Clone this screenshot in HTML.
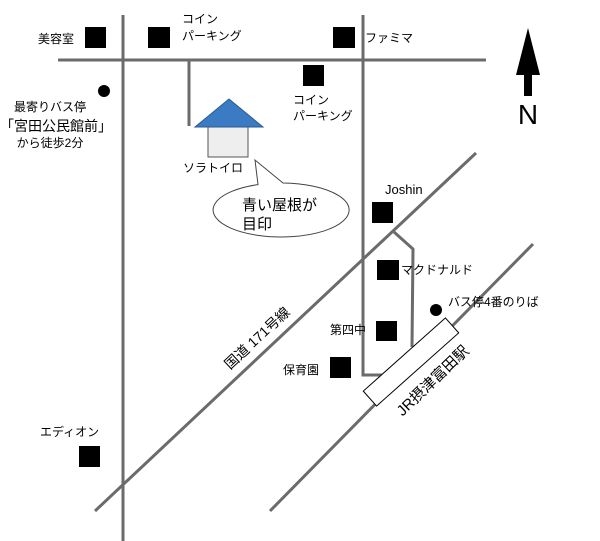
<!DOCTYPE html>
<html><head><meta charset="utf-8"><style>
html,body{margin:0;padding:0;background:#fff;}
svg{display:block;font-family:"Liberation Sans","Noto Sans CJK JP",sans-serif;}
</style></head><body>
<svg width="600" height="541" viewBox="0 0 600 541">
<g stroke="#6b6b6b" stroke-width="3" fill="none">
<line x1="123" y1="15" x2="123" y2="541"/>
<line x1="58" y1="60" x2="486" y2="60"/>
<line x1="189" y1="60" x2="189" y2="126"/>
<polyline points="363,15 363,375 382,375"/>
<line x1="95" y1="511" x2="476" y2="153"/>
<polyline points="394,232 413,249 412,347"/>
<line x1="270" y1="511" x2="533" y2="244"/>
</g>
<g fill="#000">
<rect x="85" y="27" width="21" height="21"/>
<rect x="148" y="27" width="22" height="21"/>
<rect x="333" y="27" width="22" height="21"/>
<rect x="303" y="65" width="21" height="21"/>
<rect x="372" y="202" width="21" height="21"/>
<rect x="377" y="260" width="22" height="20"/>
<rect x="376" y="321" width="21" height="20"/>
<rect x="330" y="357" width="21" height="21"/>
<rect x="79" y="446" width="21" height="21"/>
<circle cx="104" cy="91" r="6"/>
<circle cx="436" cy="310" r="6"/>
</g>
<g font-size="12" fill="#000">
<text x="38" y="43">美容室</text>
<text x="182" y="23">コイン</text>
<text x="182" y="40">パーキング</text>
<text x="365" y="42">ファミマ</text>
<text x="293" y="104">コイン</text>
<text x="293" y="120">パーキング</text>
<text x="50" y="111" text-anchor="middle">最寄りバス停</text>
<text x="56" y="131" text-anchor="middle" font-size="14">「宮田公民館前」</text>
<text x="50" y="147" text-anchor="middle">から徒歩2分</text>
<text x="183" y="172">ソラトイロ</text>
<text x="385" y="194" font-size="13">Joshin</text>
<text x="401" y="274">マクドナルド</text>
<text x="448" y="306">バス停4番のりば</text>
<text x="330" y="334">第四中</text>
<text x="283" y="374">保育園</text>
<text x="40" y="436">エディオン</text>
<text x="257" y="343" text-anchor="middle" font-size="14" transform="rotate(-43 257 338)">国道 171号線</text>
<text x="432" y="386" text-anchor="middle" font-size="15" transform="rotate(-44 432 380)">JR摂津富田駅</text>
</g>
<rect x="356" y="352" width="110" height="20" fill="#fff" stroke="#000" stroke-width="1" transform="rotate(-41.7 411 362)"/>
<g>
<rect x="208" y="127" width="40" height="30" fill="#eeeeee" stroke="#555" stroke-width="1"/>
<polygon points="195,127 229,99 263,127" fill="#3b7bc4" stroke="#2a5a90" stroke-width="1"/>
</g>
<g>
<path d="M258,184.6 L255,160 L283,183 A68,27 0 1,1 258,184.6 Z" fill="#fff" stroke="#444" stroke-width="1"/>
<text x="242" y="210" font-size="15">青い屋根が</text>
<text x="242" y="229" font-size="15">目印</text>
</g>
<g>
<polygon points="528,28 540,75 532,75 532,96 524,96 524,75 516,75" fill="#000"/>
<text x="528" y="124" text-anchor="middle" font-size="28">N</text>
</g>
</svg>
</body></html>
